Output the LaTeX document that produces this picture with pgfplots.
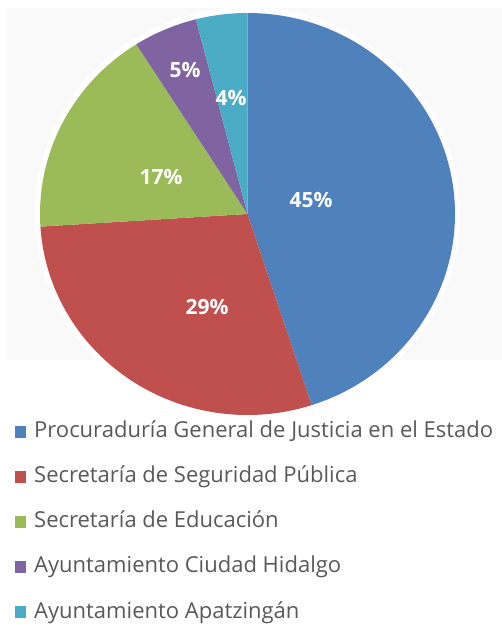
\documentclass[border=0pt]{standalone}
\usepackage{pgfplots}
\pgfplotsset{compat=1.18}
\usepackage{pgfplotstable}
\usepackage{fontspec}
\setmainfont{Open Sans}

\definecolor{cBlue}{HTML}{4F81BD}
\definecolor{cRed}{HTML}{C0504D}
\definecolor{cGreen}{HTML}{9BBB59}
\definecolor{cPurple}{HTML}{8064A2}
\definecolor{cAqua}{HTML}{4BACC6}
\definecolor{legtext}{HTML}{595959}
\definecolor{bgfill}{HTML}{F9F9F9}

% share (%), label position in px (image coords, y downwards), colour, name
\pgfplotstableread[col sep=comma]{
value,lx,ly,col,name
45,311,200,cBlue,Procuraduría General de Justicia en el Estado
29,207,307,cRed,Secretaría de Seguridad Pública
17,161,177,cGreen,Secretaría de Educación
5,185,70,cPurple,Ayuntamiento Ciudad Hidalgo
4,231,98,cAqua,Ayuntamiento Apatzingán
}\slices

\begin{document}
\begin{tikzpicture}
\begin{axis}[
    x=1pt, y=1pt,
    xmin=0, xmax=502, ymin=0, ymax=626,
    hide axis, clip=false,
    disabledatascaling,
    scale only axis,
]
% picture frame and light chart background
\path (axis cs:0,0) rectangle (axis cs:502,626);
\fill[bgfill] (axis cs:7,626-8) rectangle (axis cs:502,626-360);
% white halo round the pie
\fill[white, opacity=0.9] (axis cs:247.5,412) ellipse[x radius=213pt, y radius=207pt];

\pgfplotstablegetrowsof{\slices}
\pgfmathtruncatemacro\nrows{\pgfplotsretval-1}
\def\acur{90}
\pgfplotsforeachungrouped \i in {0,...,\nrows}{%
  \pgfplotstablegetelem{\i}{value}\of\slices \let\val\pgfplotsretval
  \pgfplotstablegetelem{\i}{lx}\of\slices \let\lx\pgfplotsretval
  \pgfplotstablegetelem{\i}{ly}\of\slices \let\ly\pgfplotsretval
  \pgfplotstablegetelem{\i}{col}\of\slices \let\col\pgfplotsretval
  \pgfplotstablegetelem{\i}{name}\of\slices \let\nm\pgfplotsretval
  \pgfmathsetmacro\anext{\acur-3.6*\val}
  \pgfmathsetmacro\ry{432+45*\i}
  \pgfmathsetmacro\rb{438+45*\i}
  \edef\cmd{%
    \noexpand\fill[\col] (axis cs:247.5,412) --
      (axis cs:{247.5+207.5*cos(\acur)},{412+201*sin(\acur)})
      arc[start angle=\acur, end angle=\anext, x radius=207.5pt, y radius=201pt] -- cycle;
    \noexpand\node[text=white, font=\noexpand\fontsize{21}{25}\noexpand\selectfont\noexpand\bfseries]
      at (axis cs:\lx,626-\ly) {\val\noexpand\%};
    \noexpand\fill[\col] (axis cs:14.5,626-\ry-6) rectangle (axis cs:26,626-\ry+6);
  }%
  \cmd
  \edef\cmd{%
    \noexpand\node[anchor=base west, inner sep=0pt, text=legtext,
      font=\noexpand\fontsize{22}{26}\noexpand\selectfont]
      at (axis cs:34,626-\rb) {\expandafter\unexpanded\expandafter{\nm}};
  }%
  \cmd
  \global\let\acur\anext
}
\end{axis}
\end{tikzpicture}
\end{document}
